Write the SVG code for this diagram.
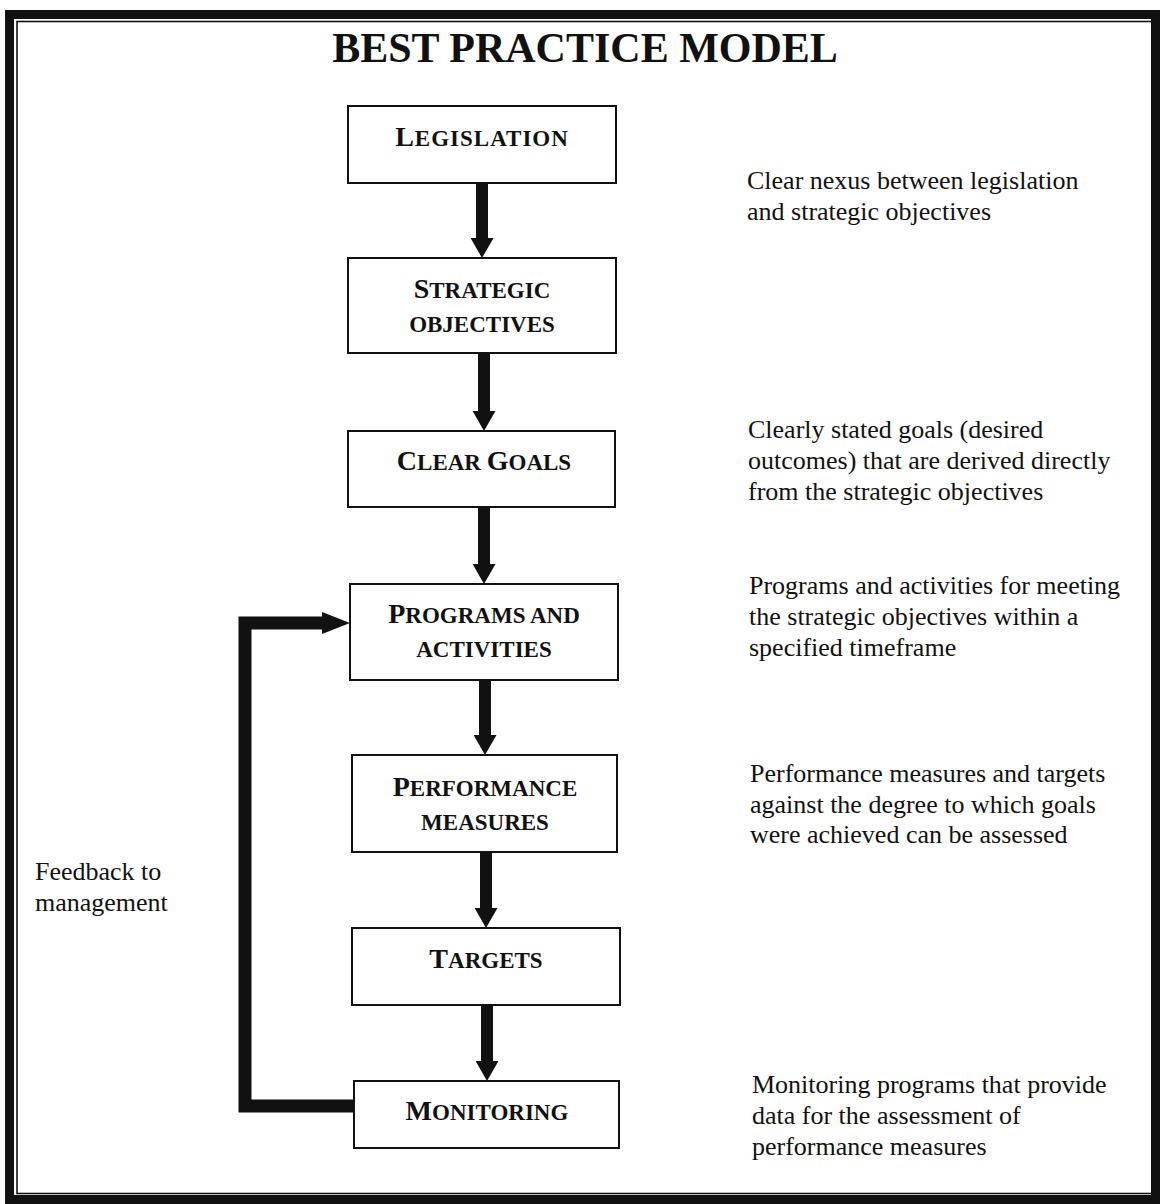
<svg xmlns="http://www.w3.org/2000/svg" width="1160" height="1204" viewBox="0 0 1160 1204">
  <style>
    .box { fill: #fff; stroke: #111; stroke-width: 2; }
    .lbl { font-family: "Liberation Serif", "Times New Roman", serif; font-weight: bold; font-size: 23px; fill: #111; text-anchor: middle; }
    .cap { font-size: 28px; }
    .note { font-family: "Liberation Serif", "Times New Roman", serif; font-size: 26px; fill: #111; }
    .title { font-family: "Liberation Serif", "Times New Roman", serif; font-weight: bold; font-size: 42px; fill: #111; text-anchor: middle; }
    .flow { fill: none; stroke: #111; stroke-width: 12; }
    .loop { fill: none; stroke: #111; stroke-width: 13; stroke-linejoin: miter; }
  </style>
  <defs>
    <marker id="head" markerUnits="userSpaceOnUse" viewBox="0 0 20 23" markerWidth="20" markerHeight="23" refX="0" refY="11.5" orient="auto">
      <path d="M0,0 L20,11.5 L0,23 Z" fill="#111"/>
    </marker>
    <marker id="headLoop" markerUnits="userSpaceOnUse" viewBox="0 0 28 22" markerWidth="28" markerHeight="22" refX="0" refY="11" orient="auto">
      <path d="M0,0 L28,11 L0,22 Z" fill="#111"/>
    </marker>
  </defs>

  <rect width="1160" height="1204" fill="#fff"/>

  <!-- page frame: heavy outer rule and thin inner rule -->
  <g id="frame">
    <rect x="9.5" y="14.5" width="1146" height="1185" fill="none" stroke="#111" stroke-width="9"/>
    <rect x="17" y="21.5" width="1135" height="1172" fill="none" stroke="#111" stroke-width="1.6"/>
  </g>

  <text id="title" class="title" x="585" y="62">BEST PRACTICE MODEL</text>

  <!-- connectors -->
  <g id="connectors">
    <path class="flow" d="M482,183 V238" marker-end="url(#head)"/>
    <path class="flow" d="M484,353 V411" marker-end="url(#head)"/>
    <path class="flow" d="M484,507 V564" marker-end="url(#head)"/>
    <path class="flow" d="M485,680 V735" marker-end="url(#head)"/>
    <path class="flow" d="M486,852 V908" marker-end="url(#head)"/>
    <path class="flow" d="M487,1005 V1061" marker-end="url(#head)"/>
    <path class="loop" d="M354,1106 H245 V623 H322" marker-end="url(#headLoop)"/>
  </g>

  <!-- process steps -->
  <g id="node-legislation">
    <rect class="box" x="348" y="106" width="268" height="77"/>
    <text class="lbl" x="482" y="146" letter-spacing="1"><tspan class="cap">L</tspan>EGISLATION</text>
  </g>
  <g id="node-strategic">
    <rect class="box" x="348" y="258" width="268" height="95"/>
    <text class="lbl" x="482" y="298"><tspan class="cap">S</tspan>TRATEGIC</text>
    <text class="lbl" x="482" y="332">OBJECTIVES</text>
  </g>
  <g id="node-goals">
    <rect class="box" x="348" y="431" width="267" height="76"/>
    <text class="lbl" x="484" y="470"><tspan class="cap">C</tspan>LEAR <tspan class="cap">G</tspan>OALS</text>
  </g>
  <g id="node-programs">
    <rect class="box" x="350" y="584" width="268" height="96"/>
    <text class="lbl" x="484" y="623"><tspan class="cap">P</tspan>ROGRAMS AND</text>
    <text class="lbl" x="484" y="657">ACTIVITIES</text>
  </g>
  <g id="node-performance">
    <rect class="box" x="352" y="755" width="265" height="97"/>
    <text class="lbl" x="485" y="796"><tspan class="cap">P</tspan>ERFORMANCE</text>
    <text class="lbl" x="485" y="830">MEASURES</text>
  </g>
  <g id="node-targets">
    <rect class="box" x="352" y="928" width="268" height="77"/>
    <text class="lbl" x="486" y="968"><tspan class="cap">T</tspan>ARGETS</text>
  </g>
  <g id="node-monitoring">
    <rect class="box" x="354" y="1081" width="265" height="67"/>
    <text class="lbl" x="487" y="1120"><tspan class="cap">M</tspan>ONITORING</text>
  </g>

  <!-- side notes -->
  <g id="note-feedback">
    <text class="note" x="35" y="880">Feedback to</text>
    <text class="note" x="35" y="911">management</text>
  </g>
  <g id="note-legislation">
    <text class="note" x="747" y="189">Clear nexus between legislation</text>
    <text class="note" x="747" y="220">and strategic objectives</text>
  </g>
  <g id="note-goals">
    <text class="note" x="748" y="438">Clearly stated goals (desired</text>
    <text class="note" x="748" y="469">outcomes) that are derived directly</text>
    <text class="note" x="748" y="500">from the strategic objectives</text>
  </g>
  <g id="note-programs">
    <text class="note" x="749" y="594">Programs and activities for meeting</text>
    <text class="note" x="749" y="625">the strategic objectives within a</text>
    <text class="note" x="749" y="656">specified timeframe</text>
  </g>
  <g id="note-performance">
    <text class="note" x="750" y="782">Performance measures and targets</text>
    <text class="note" x="750" y="813">against the degree to which goals</text>
    <text class="note" x="750" y="843">were achieved can be assessed</text>
  </g>
  <g id="note-monitoring">
    <text class="note" x="752" y="1093">Monitoring programs that provide</text>
    <text class="note" x="752" y="1124">data for the assessment of</text>
    <text class="note" x="752" y="1155">performance measures</text>
  </g>
</svg>
